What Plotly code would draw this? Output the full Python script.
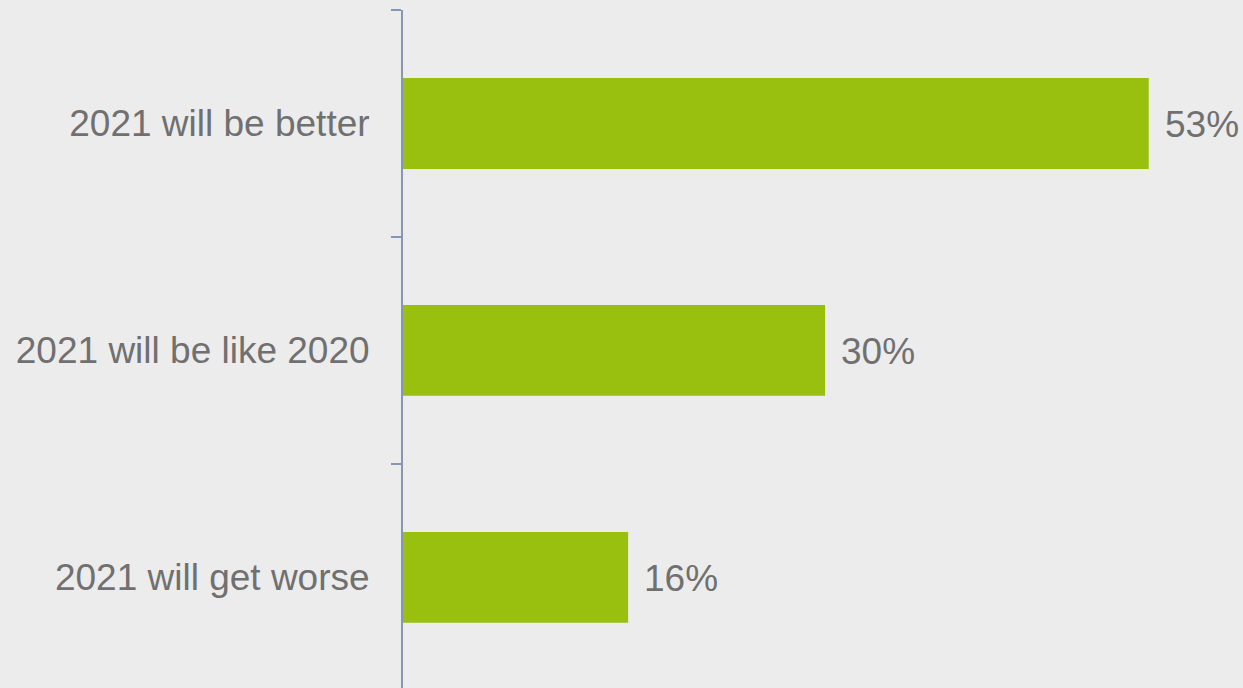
import plotly.graph_objects as go

categories = ["2021 will be better", "2021 will be like 2020", "2021 will get worse"]
values = [53, 30, 16]
value_labels = ["53%", "30%", "16%"]

bar_color = "#99c00f"
axis_color = "#8598b3"
text_color = "#707070"
bg = "#ececec"
font_family = "Liberation Sans, Arial, sans-serif"

fig = go.Figure(
    go.Bar(
        x=values,
        y=categories,
        orientation="h",
        marker=dict(color=bar_color, line=dict(width=0)),
        width=0.4,
        hoverinfo="skip",
    )
)

for v, c, t in zip(values, categories, value_labels):
    fig.add_annotation(
        x=v, y=c, text=t, showarrow=False, xanchor="left", yanchor="middle",
        xshift=14, yshift=-1, font=dict(size=37, color=text_color, family=font_family),
    )

fig.update_layout(
    width=1243, height=688,
    margin=dict(l=403, r=0, t=10, b=0),
    paper_bgcolor=bg, plot_bgcolor=bg,
    showlegend=False,
    font=dict(family=font_family, size=37, color=text_color),
)
fig.update_xaxes(range=[0, 59.7], visible=False, showgrid=False, zeroline=False)
fig.update_yaxes(
    range=[2.487, -0.5],
    showline=True, linecolor=axis_color, linewidth=2,
    ticks="outside", tickson="boundaries", ticklen=10, tickwidth=2, tickcolor=axis_color,
    ticklabelstandoff=24,
    showgrid=False, zeroline=False,
    tickfont=dict(size=37, color=text_color, family=font_family),
)

fig.write_html(
    "out.html",
    config={"displayModeBar": False},
    post_script="document.body.style.margin='0';document.body.style.background='#ececec';",
)
